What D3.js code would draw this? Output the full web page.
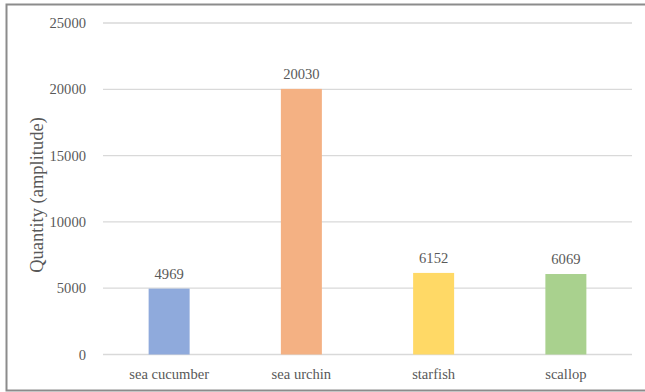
<!DOCTYPE html>
<html>
<head>
<meta charset="utf-8">
<script src="https://cdn.jsdelivr.net/npm/d3@7"></script>
<style>
  body { margin: 0; background: #fff; }
  text { font-family: "Liberation Serif", "Times New Roman", serif; fill: #595959; }
</style>
</head>
<body>
<svg id="chart" width="645" height="392"></svg>
<script>
var categories = ["sea cucumber", "sea urchin", "starfish", "scallop"];
var amounts = [4969, 20030, 6152, 6069];
var barColors = ["#8FAADC", "#F4B183", "#FFD966", "#A9D18E"];
var yTicks = [0, 5000, 10000, 15000, 20000, 25000];

var svg = d3.select("#chart");
var plotLeft = 103, plotRight = 632, plotTop = 23, plotBottom = 354.5;
var labelSize = 14.6;

// outer frame
svg.append("rect")
  .attr("x", 6.5).attr("y", 4.5)
  .attr("width", 645).attr("height", 386)
  .attr("fill", "none")
  .attr("stroke", "#8c8c8c")
  .attr("stroke-width", 2);

var xScale = d3.scaleBand()
  .domain(categories)
  .range([plotLeft, plotRight])
  .paddingInner(0.69)
  .paddingOuter(0.345);

var yScale = d3.scaleLinear()
  .domain([0, 25000])
  .range([plotBottom, plotTop]);

// gridlines
svg.append("g")
  .selectAll("line")
  .data(yTicks)
  .enter()
  .append("line")
  .attr("x1", plotLeft).attr("x2", plotRight)
  .attr("y1", function(d) { return yScale(d); })
  .attr("y2", function(d) { return yScale(d); })
  .attr("stroke", "#d9d9d9")
  .attr("stroke-width", 1.3);

var yAxis = svg.append("g")
  .attr("transform", "translate(" + (plotLeft - 14) + ",0)")
  .call(d3.axisLeft(yScale).tickValues(yTicks).tickSize(0).tickFormat(d3.format("d")));
yAxis.select(".domain").remove();
yAxis.selectAll("text")
  .attr("font-size", labelSize)
  .attr("font-family", "Liberation Serif")
  .attr("fill", "#595959");

svg.selectAll(".bar")
  .data(amounts)
  .enter()
  .append("rect")
  .attr("class", "bar")
  .attr("x", function(d, i) { return xScale(categories[i]); })
  .attr("width", xScale.bandwidth())
  .attr("y", function(d) { return yScale(d); })
  .attr("height", function(d) { return yScale(0) - yScale(d); })
  .attr("fill", function(d, i) { return barColors[i]; });

svg.selectAll(".value")
  .data(amounts)
  .enter()
  .append("text")
  .attr("class", "value")
  .attr("x", function(d, i) { return xScale(categories[i]) + xScale.bandwidth() / 2; })
  .attr("y", function(d) { return yScale(d) - 10; })
  .attr("text-anchor", "middle")
  .attr("font-size", labelSize)
  .text(function(d) { return d; });

var xAxis = svg.append("g")
  .attr("transform", "translate(0," + plotBottom + ")")
  .call(d3.axisBottom(xScale).tickSize(0).tickPadding(14));
xAxis.select(".domain").remove();
xAxis.selectAll("text")
  .attr("font-size", labelSize)
  .attr("font-family", "Liberation Serif")
  .attr("fill", "#595959");

svg.append("text")
  .attr("transform", "translate(43,195) rotate(-90)")
  .attr("text-anchor", "middle")
  .attr("font-size", 18.5)
  .text("Quantity (amplitude)");
</script>
</body>
</html>
